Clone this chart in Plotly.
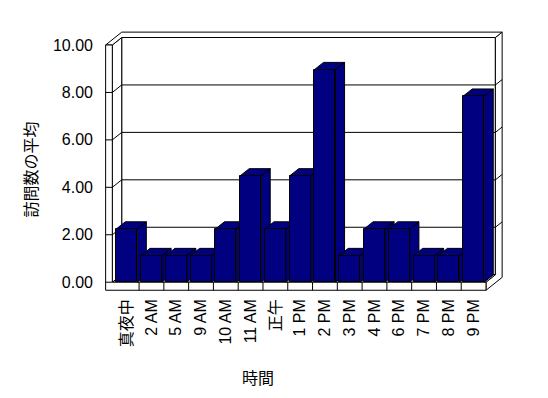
import plotly.graph_objects as go

# ---- data ----
categories = ["真夜中", "2 AM", "5 AM", "9 AM", "10 AM", "11 AM", "正午",
              "1 PM", "2 PM", "3 PM", "4 PM", "6 PM", "7 PM", "8 PM", "9 PM"]
visits_avg = [2.24, 1.12, 1.12, 1.12, 2.24, 4.48, 2.24,
              4.48, 8.96, 1.12, 2.24, 2.24, 1.12, 1.12, 7.84]
y_ticks = [0, 2, 4, 6, 8, 10]
y_title = "訪問数の平均"
x_title = "時間"

NAVY = "#000080"
FONT = "Liberation Sans, Arial, Noto Sans CJK JP, sans-serif"

# ---- 3D projection helpers (in data units) ----
DX, DY = 0.379, 0.316      # depth vector of the box interior
T = 0.72                   # back wall thickness (in depth units)
XL_OUT, XL_IN = -0.85, -0.58
XR = len(categories) - 0.5
YF = -0.34                 # floor bottom
YT = 10
BAR_HW = 0.425
BAR_D = 0.97


def P(x, y, z):
    return (x + z * DX, y + z * DY)


def path(pts):
    s = "M %f %f" % pts[0]
    for p in pts[1:]:
        s += " L %f %f" % p
    return s + " Z"


def line_path(a, b):
    return "M %f %f L %f %f" % (a[0], a[1], b[0], b[1])


shapes = []
face = dict(type="path", xref="x", yref="y", layer="below",
            fillcolor="white", line=dict(color="black", width=1))
ln = dict(type="path", xref="x", yref="y", layer="below",
          line=dict(color="black", width=1))

# back wall inner face
shapes.append(dict(face, path=path([P(XL_IN, 0, 1), P(XR, 0, 1), P(XR, YT, 1), P(XL_IN, YT, 1)])))
# right faces (back wall + floor)
shapes.append(dict(face, path=path([P(XR, YF, 0), P(XR, 0, 0), P(XR, 0, 1), P(XR, YT, 1),
                                    P(XR, YT, 1 + T), P(XR, YF, 1 + T)])))
# floor top face
shapes.append(dict(face, path=path([P(XL_IN, 0, 0), P(XR, 0, 0), P(XR, 0, 1), P(XL_IN, 0, 1)])))
# left wall inner face
shapes.append(dict(face, path=path([P(XL_IN, 0, 0), P(XL_IN, YT, 0), P(XL_IN, YT, 1), P(XL_IN, 0, 1)])))
# top faces (left wall + back wall)
shapes.append(dict(face, path=path([P(XL_OUT, YT, 0), P(XL_IN, YT, 0), P(XL_IN, YT, 1), P(XR, YT, 1),
                                    P(XR, YT, 1 + T), P(XL_OUT, YT, 1 + T)])))
# front faces (left wall + floor)
shapes.append(dict(face, path=path([P(XL_OUT, YT, 0), P(XL_IN, YT, 0), P(XL_IN, 0, 0), P(XR, 0, 0),
                                    P(XR, YF, 0), P(XL_OUT, YF, 0)])))
# gridlines
for yv in y_ticks[1:-1]:
    shapes.append(dict(ln, path=line_path(P(XL_IN, yv, 1), P(XR, yv, 1))))
    shapes.append(dict(ln, path=line_path(P(XR, yv, 1), P(XR, yv, 1 + T))))
    shapes.append(dict(ln, path=line_path(P(XL_IN, yv, 0), P(XL_IN, yv, 1))))
for yv in y_ticks[:-1]:
    shapes.append(dict(ln, path=line_path(P(XL_OUT, yv, 0), P(XL_IN, yv, 0))))
# category dividers on floor front
for k in range(len(categories) - 1):
    shapes.append(dict(ln, path=line_path(P(k + 0.5, YF, 0), P(k + 0.5, 0, 0))))

fig = go.Figure()

# side and top faces of bars (base axes)
for i, v in enumerate(visits_avg):
    xl, xr = i - BAR_HW, i + BAR_HW
    right = [P(xr, 0, 0), P(xr, v, 0), P(xr, v, BAR_D), P(xr, 0, BAR_D), P(xr, 0, 0)]
    top = [P(xl, v, 0), P(xr, v, 0), P(xr, v, BAR_D), P(xl, v, BAR_D), P(xl, v, 0)]
    xs, ys = [], []
    for poly in (right, top):
        xs += [p[0] for p in poly] + [None]
        ys += [p[1] for p in poly] + [None]
    fig.add_trace(go.Scatter(x=xs, y=ys, mode="lines", fill="toself", fillcolor=NAVY,
                             line=dict(color="black", width=1), hoverinfo="skip",
                             showlegend=False, xaxis="x", yaxis="y"))

# front faces of bars (overlay axes, drawn on top)
fig.add_trace(go.Bar(x=list(range(len(categories))), y=visits_avg, width=2 * BAR_HW,
                     marker=dict(color=NAVY, line=dict(color="black", width=1)),
                     showlegend=False, xaxis="x2", yaxis="y2",
                     hovertext=categories))

OFF = 8  # page body margin
W, H = 548 - OFF, 398 - OFF
L, R, TOP, BOT = 100 - OFF, 505 - OFF, 30 - OFF, 295 - OFF
PX_X0, UX = 114.3 - OFF, 24.78
PY0, UY = 282.2 - OFF, 23.72
xr = [-0.5 - (PX_X0 - L) / UX, -0.5 + (R - PX_X0) / UX]
yr = [(PY0 - BOT) / UY, (PY0 - TOP) / UY]

fig.update_layout(
    width=W, height=H,
    margin=dict(l=L, r=W - R, t=TOP, b=H - BOT, pad=0, autoexpand=False),
    paper_bgcolor="white", plot_bgcolor="white",
    font=dict(family=FONT, size=16, color="black"),
    shapes=shapes,
    bargap=0,
    xaxis=dict(range=xr, tickvals=list(range(len(categories))), ticktext=categories,
               tickangle=-90, showgrid=False, zeroline=False, showline=False,
               ticks="", tickfont=dict(size=16), fixedrange=True, automargin=False),
    yaxis=dict(range=yr, tickvals=y_ticks, tickformat=".2f", showgrid=False,
               zeroline=False, showline=False, ticks="", tickfont=dict(size=16),
               ticklabelstandoff=6, fixedrange=True, automargin=False),
    xaxis2=dict(range=xr, overlaying="x", visible=False, anchor="y2"),
    yaxis2=dict(range=yr, overlaying="y", visible=False, anchor="x2"),
    annotations=[
        dict(text=y_title, xref="paper", yref="paper", x=(29.5 - OFF - L) / (R - L),
             y=(BOT - (170 - OFF)) / (BOT - TOP), textangle=-90, showarrow=False,
             font=dict(size=16, family="Noto Sans CJK JP"), xanchor="center", yanchor="middle"),
        dict(text=x_title, xref="paper", yref="paper", x=(258 - OFF - L) / (R - L),
             y=(BOT - (377 - OFF)) / (BOT - TOP), showarrow=False,
             font=dict(size=16, family="Noto Sans CJK JP"), xanchor="center", yanchor="middle"),
    ],
)

fig.write_html("out.html")
